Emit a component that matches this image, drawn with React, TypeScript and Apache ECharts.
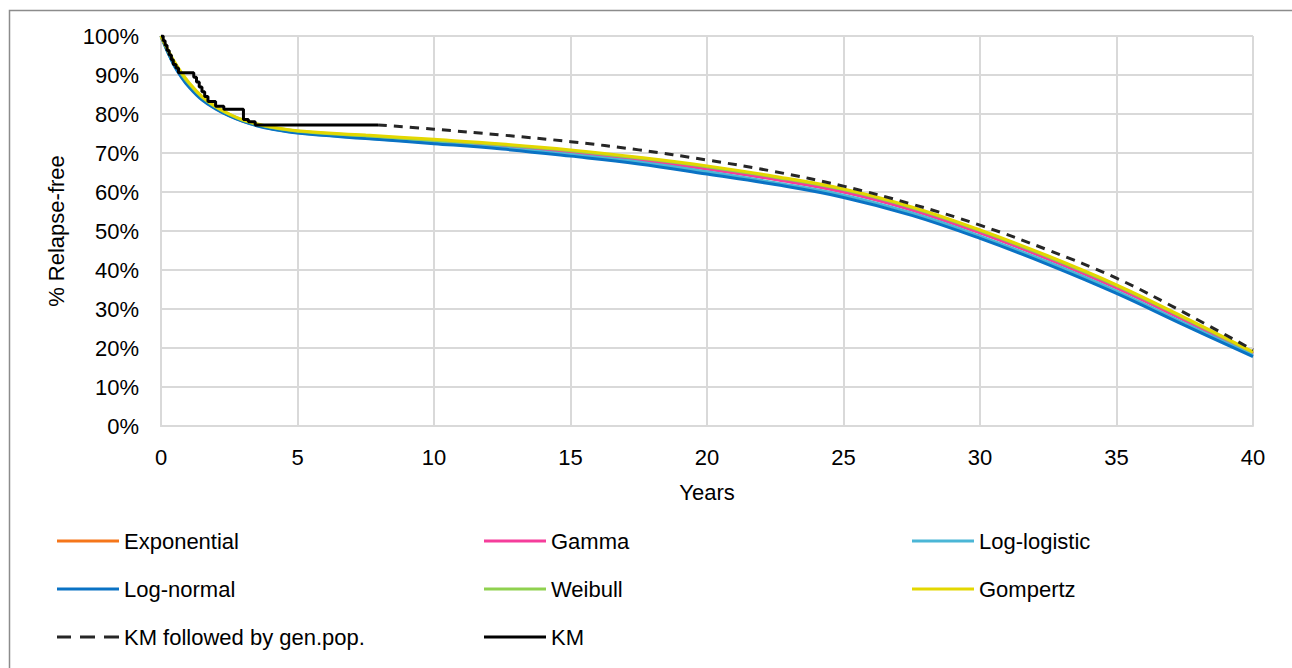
import React, { useEffect, useRef } from "react";
import * as echarts from "echarts";

const years = [0, 0.25, 0.5, 0.75, 1, 1.5, 2, 2.5, 3, 3.5, 4, 5, 7.5, 10, 12.5, 15, 17.5, 20, 22.5, 25, 27.5, 30, 32.5, 35, 37.5, 40];
const exponential = [100, 96.2, 92.9, 90.1, 87.8, 84.2, 81.7, 79.8, 78.3, 77.3, 76.5, 75.5, 74.2, 73.0, 71.8, 70.2, 68.3, 66.0, 63.3, 60.1, 55.5, 49.6, 42.9, 35.5, 27.2, 18.6];
const gamma = [100, 96.2, 92.9, 90.1, 87.8, 84.1, 81.6, 79.7, 78.2, 77.2, 76.4, 75.4, 74.1, 72.9, 71.7, 70.1, 68.2, 65.9, 63.2, 60.0, 55.4, 49.5, 42.8, 35.4, 27.1, 18.5];
const logLogistic = [100, 95.8, 92.3, 89.6, 87.3, 83.8, 81.4, 79.6, 78.2, 77.1, 76.3, 75.2, 73.8, 72.6, 71.3, 69.6, 67.7, 65.2, 62.4, 59.2, 54.6, 48.7, 42.0, 34.6, 26.3, 18.1];
const logNormal = [100, 95.8, 92.2, 89.4, 87.1, 83.6, 81.3, 79.5, 78.1, 77.0, 76.2, 75.1, 73.7, 72.4, 71.0, 69.2, 67.2, 64.6, 61.9, 58.6, 54.0, 48.1, 41.4, 34.0, 25.8, 17.8];
const weibull = [100, 96.3, 93.0, 90.3, 88.0, 84.3, 81.8, 79.9, 78.4, 77.4, 76.6, 75.6, 74.4, 73.3, 72.1, 70.6, 68.7, 66.5, 63.8, 60.6, 56.0, 50.1, 43.4, 36.0, 27.6, 18.9];
const gompertz = [100, 96.5, 93.3, 90.6, 88.3, 84.5, 81.9, 80.0, 78.5, 77.5, 76.7, 75.7, 74.6, 73.5, 72.3, 70.8, 68.9, 66.7, 64.0, 60.8, 56.2, 50.3, 43.6, 36.2, 27.8, 19.0];

const genPopYears = [7.95, 10, 12.5, 15, 17.5, 20, 22.5, 25, 27.5, 30, 32.5, 35, 37.5, 40];
const genPopValues = [77.2, 76.1, 74.6, 72.9, 70.8, 68.2, 65.2, 61.5, 56.9, 51.5, 45.1, 37.9, 29.0, 19.5];

const kmYears = [0, 0.08, 0.15, 0.22, 0.3, 0.38, 0.45, 0.55, 0.64, 1.2, 1.3, 1.4, 1.5, 1.6, 1.72, 2.0, 2.3, 3.02, 3.2, 3.45, 7.95];
const kmValues = [100, 98.8, 97.6, 96.3, 95.1, 93.9, 92.7, 91.8, 90.6, 89.4, 88.2, 86.9, 85.7, 84.5, 83.2, 82.0, 81.2, 78.6, 78.0, 77.2, 77.2];

const FONT = "'Liberation Sans', Arial, sans-serif";
const FS = 22;
const DASH_ICON = "path://M0,0h14v3h-14z M23,0h15v3h-15z M47,0h15v3h-15z";

const zip = (xs: number[], ys: number[]) => xs.map((x, i) => [x, ys[i]]);

const fitSeries = (name: string, values: number[], color: string) => ({
  name,
  type: "line",
  data: zip(years, values),
  symbol: "none",
  smooth: 0.4,
  lineStyle: { color, width: 3 },
  itemStyle: { color },
});

export default function App() {
  const ref = useRef<HTMLDivElement>(null);
  useEffect(() => {
    if (!ref.current) return;
    const chart = echarts.init(ref.current, undefined, { renderer: "svg" });
    const legendBase = {
      orient: "vertical",
      itemWidth: 62,
      itemHeight: 3,
      itemGap: 24,
      symbolKeepAspect: false,
      textStyle: { fontFamily: FONT, fontSize: FS, color: "#000", lineHeight: 24 },
      top: 529,
      padding: 0,
    };
    const item = (name: string) => ({ name, icon: "rect" });
    chart.setOption({
      animation: false,
      backgroundColor: "#fff",
      textStyle: { fontFamily: FONT },
      graphic: [
        {
          type: "rect",
          shape: { x: 9.5, y: 10.5, width: 1400, height: 800 },
          style: { fill: "none", stroke: "#8c8c8c", lineWidth: 1.5 },
          silent: true,
        },
      ],
      grid: { left: 161, right: 39, top: 36, bottom: 242 },
      xAxis: {
        type: "value",
        min: 0,
        max: 40,
        interval: 5,
        name: "Years",
        nameLocation: "middle",
        nameGap: 55,
        nameTextStyle: { fontFamily: FONT, fontSize: FS, color: "#000" },
        axisLine: { show: true, lineStyle: { color: "#d9d9d9", width: 2 } },
        axisTick: { show: false },
        axisLabel: { fontFamily: FONT, fontSize: FS, color: "#000", margin: 20 },
        splitLine: { show: true, lineStyle: { color: "#d9d9d9", width: 2 } },
      },
      yAxis: {
        type: "value",
        min: 0,
        max: 100,
        interval: 10,
        name: "% Relapse-free",
        nameLocation: "middle",
        nameGap: 94,
        nameRotate: 90,
        nameTextStyle: { fontFamily: FONT, fontSize: FS, color: "#000" },
        axisLine: { show: true, lineStyle: { color: "#d9d9d9", width: 2 } },
        axisTick: { show: false },
        axisLabel: { fontFamily: FONT, fontSize: FS, color: "#000", margin: 22, formatter: "{value}%" },
        splitLine: { show: true, lineStyle: { color: "#d9d9d9", width: 2 } },
      },
      legend: [
        {
          ...legendBase,
          left: 57,
          data: [item("Exponential"), item("Log-normal"), { name: "KM followed by gen.pop.", icon: DASH_ICON }],
        },
        { ...legendBase, left: 484, data: [item("Gamma"), item("Weibull"), item("KM")] },
        { ...legendBase, left: 912, data: [item("Log-logistic"), item("Gompertz")] },
      ],
      series: [
        fitSeries("Exponential", exponential, "#f5761a"),
        fitSeries("Gamma", gamma, "#f53d9b"),
        fitSeries("Log-logistic", logLogistic, "#4bb6d6"),
        fitSeries("Log-normal", logNormal, "#0a72c4"),
        fitSeries("Weibull", weibull, "#8fd14f"),
        fitSeries("Gompertz", gompertz, "#e3d700"),
        {
          name: "KM followed by gen.pop.",
          type: "line",
          data: zip(genPopYears, genPopValues),
          symbol: "none",
          smooth: 0.4,
          lineStyle: { color: "#262626", width: 3, type: [9, 7] },
          itemStyle: { color: "#262626" },
        },
        {
          name: "KM",
          type: "line",
          data: zip(kmYears, kmValues),
          symbol: "none",
          step: "end",
          lineStyle: { color: "#000", width: 3 },
          itemStyle: { color: "#000" },
        },
      ],
    });
    return () => chart.dispose();
  }, []);
  return (
    <div
      ref={ref}
      style={{ position: "fixed", left: 0, top: 0, width: 1292, height: 668 }}
    />
  );
}
